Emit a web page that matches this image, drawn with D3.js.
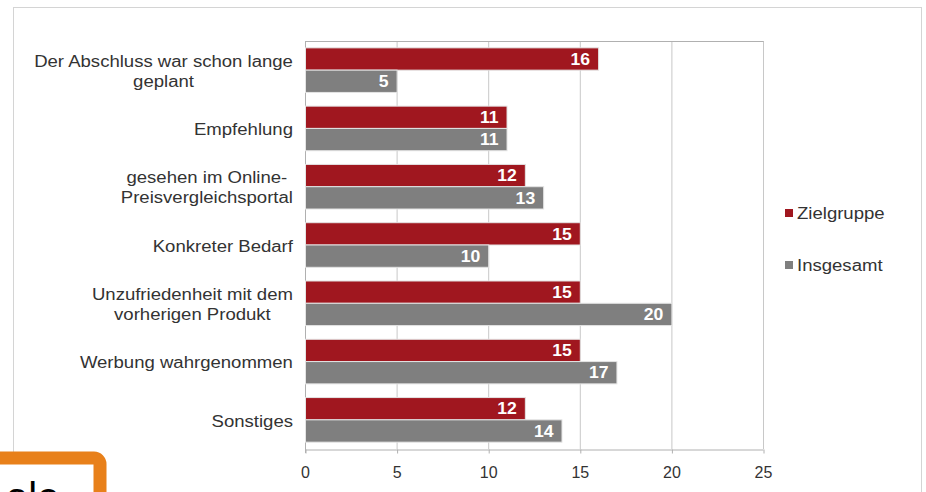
<!DOCTYPE html>
<html>
<head>
<meta charset="utf-8">
<script src="https://cdn.jsdelivr.net/npm/d3@7"></script>
<style>
  body { margin: 0; background: #fff; }
  svg { display: block; font-family: "Liberation Sans", Arial, sans-serif; }
</style>
</head>
<body>
<div id="chart"></div>
<script>
// data
var categories = [
  ["Der Abschluss war schon lange", "geplant"],
  ["Empfehlung"],
  ["gesehen im Online-", "Preisvergleichsportal"],
  ["Konkreter Bedarf"],
  ["Unzufriedenheit mit dem", "vorherigen Produkt"],
  ["Werbung wahrgenommen"],
  ["Sonstiges"]
];
var seriesNames = ["Zielgruppe", "Insgesamt"];
var zielgruppe = [16, 11, 12, 15, 15, 15, 12];
var insgesamt = [5, 11, 13, 10, 20, 17, 14];
var xTicks = [0, 5, 10, 15, 20, 25];
var colors = ["#a0171f", "#7f7f7f"];

function init() {
  var W = 926, H = 492;
  var left = 305, right = 763, top = 41, bottom = 449;
  var stretch = 1.16;	//text in the picture is drawn a bit wide

  var svg = d3.select("#chart")
    .append("svg")
    .attr("width", W)
    .attr("height", H);

  // outer dotted frame
  svg.append("rect")
    .attr("x", 13.5).attr("y", 7.5)
    .attr("width", 908).attr("height", 500)
    .attr("fill", "none")
    .attr("stroke", "#a8a8a8")
    .attr("stroke-dasharray", "1,1");

  var keys = categories.map(function(c, i) { return i; });

  var xScale = d3.scaleLinear()
    .domain([0, 25])
    .range([left, right]);

  var yScale = d3.scaleBand()
    .domain(keys)
    .range([top, bottom])
    .paddingInner(0.235)
    .paddingOuter(0.1175);

  var sub = d3.scaleBand()
    .domain([0, 1])
    .range([0, yScale.bandwidth()]);

  // grid lines
  svg.append("g")
    .selectAll("line")
    .data(xTicks.slice(1))
    .enter()
    .append("line")
    .attr("x1", function(d) { return xScale(d) + 0.5; })
    .attr("x2", function(d) { return xScale(d) + 0.5; })
    .attr("y1", top)
    .attr("y2", bottom)
    .attr("stroke", "#c8c8c8")
    .attr("stroke-width", 1);

  // top border of plot
  svg.append("line")
    .attr("x1", left).attr("x2", right + 0.5)
    .attr("y1", top + 0.5).attr("y2", top + 0.5)
    .attr("stroke", "#b0b0b0");

  // x axis
  var xAxis = d3.axisBottom(xScale)
    .tickValues(xTicks)
    .tickSize(4)
    .tickSizeOuter(0);

  var gx = svg.append("g")
    .attr("transform", "translate(0," + (bottom + 0.5) + ")")
    .call(xAxis);
  gx.select(".domain").attr("stroke", "#b0b0b0");
  gx.selectAll(".tick line").attr("stroke", "#b0b0b0").attr("transform", "translate(0.5,0)");
  gx.selectAll(".tick text")
    .attr("y", 17)
    .style("font-size", "16px")
    .style("font-family", "'Liberation Sans', Arial, sans-serif")
    .attr("fill", "#333");

  // y axis line
  svg.append("line")
    .attr("x1", left + 0.5).attr("x2", left + 0.5)
    .attr("y1", top).attr("y2", bottom + 4)
    .attr("stroke", "#b0b0b0");

  // bars
  var data = keys.map(function(i) { return [zielgruppe[i], insgesamt[i]]; });

  var groups = svg.append("g")
    .selectAll("g")
    .data(data)
    .enter()
    .append("g")
    .attr("transform", function(d, i) { return "translate(0," + yScale(i) + ")"; });

  groups.selectAll("rect")
    .data(function(d) { return d; })
    .enter()
    .append("rect")
    .attr("x", xScale(0) + 0.5)
    .attr("y", function(d, j) { return sub(j); })
    .attr("width", function(d) { return xScale(d) - xScale(0); })
    .attr("height", sub.bandwidth())
    .attr("fill", function(d, j) { return colors[j]; })
    .attr("stroke", "#e4e4e4")
    .attr("stroke-width", 1);

  groups.selectAll("text.val")
    .data(function(d) { return d; })
    .enter()
    .append("text")
    .attr("class", "val")
    .attr("transform", function(d, j) {
      return "translate(" + (xScale(d) - 8) + "," + (sub(j) + sub.bandwidth() / 2) + ") scale(1.1,1)";
    })
    .attr("dy", "0.36em")
    .attr("text-anchor", "end")
    .attr("fill", "#fff")
    .style("font-size", "16px")
    .style("font-weight", "bold")
    .text(function(d) { return d; });

  // category labels (centered multi-line block, right edge at 293)
  var labelRight = 293;
  var lab = svg.append("g")
    .selectAll("g")
    .data(categories)
    .enter()
    .append("g")
    .attr("transform", function(d, i) {
      return "translate(0," + (yScale(i) + yScale.bandwidth() / 2 + 1) + ")";
    });

  lab.each(function(lines) {
    var g = d3.select(this);
    var widths = [];
    var texts = g.selectAll("text")
      .data(lines)
      .enter()
      .append("text")
      .attr("dy", "0.36em")
      .attr("text-anchor", "middle")
      .attr("fill", "#333")
      .style("font-size", "16px")
      .text(function(d) { return d; });
    texts.each(function() { widths.push(this.getComputedTextLength() * stretch); });
    var maxW = d3.max(widths);
    texts.attr("transform", function(d, k) {
      var yy = (k - (lines.length - 1) / 2) * 20;
      return "translate(" + (labelRight - maxW / 2) + "," + yy + ") scale(" + stretch + ",1)";
    });
  });

  // legend
  var legend = svg.append("g")
    .selectAll("g")
    .data(seriesNames)
    .enter()
    .append("g")
    .attr("transform", function(d, i) { return "translate(785," + (213 + i * 52) + ")"; });

  legend.append("rect")
    .attr("x", 0).attr("y", -4)
    .attr("width", 8).attr("height", 8)
    .attr("fill", function(d, i) { return colors[i]; });

  legend.append("text")
    .attr("transform", "translate(12,0) scale(" + stretch + ",1)")
    .attr("dy", "0.36em")
    .attr("fill", "#333")
    .style("font-size", "16px")
    .text(function(d) { return d; });

  // orange box peeking in at bottom left
  svg.append("rect")
    .attr("x", -20).attr("y", 458)
    .attr("width", 120).attr("height", 60)
    .attr("rx", 6)
    .attr("fill", "#fff")
    .attr("stroke", "#e8801a")
    .attr("stroke-width", 13);

  svg.append("text")
    .attr("x", 6).attr("y", 511)
    .attr("fill", "#000")
    .style("font-size", "40px")
    .text("ale");
}
window.onload = init;
</script>
</body>
</html>
